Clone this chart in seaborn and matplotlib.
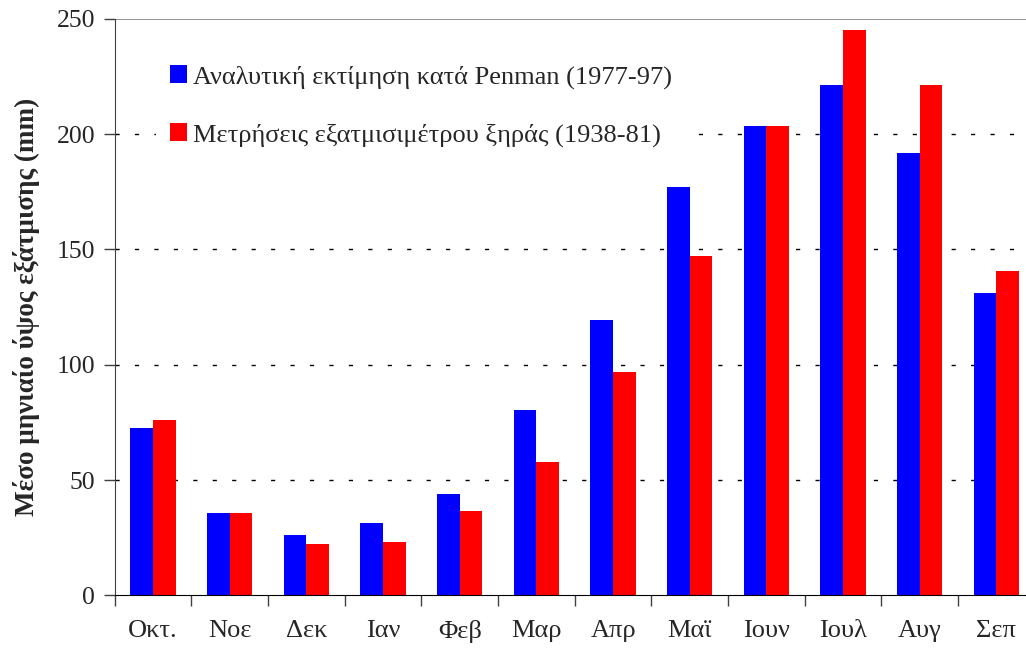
import pandas as pd
import seaborn as sns
import matplotlib.pyplot as plt
from matplotlib.ticker import MultipleLocator, FixedLocator

months = ["Οκτ.", "Νοε", "Δεκ", "Ιαν", "Φεβ", "Μαρ", "Απρ", "Μαϊ", "Ιουν", "Ιουλ", "Αυγ", "Σεπ"]
penman = [72.4, 35.6, 26.0, 31.2, 43.8, 80.4, 119.5, 177.2, 203.5, 221.2, 191.7, 131.2]
pan = [76.0, 35.6, 22.2, 23.0, 36.4, 57.7, 96.8, 147.1, 203.5, 245.4, 221.2, 140.8]
series = ["Αναλυτική εκτίμηση κατά Penman (1977-97)",
          "Μετρήσεις εξατμισιμέτρου ξηράς (1938-81)"]
colors = ["#0000ff", "#ff0000"]

df = pd.DataFrame({
    "month": months * 2,
    "value": penman + pan,
    "series": [series[0]] * len(months) + [series[1]] * len(months),
})

sns.set_style("white")
plt.rcParams["font.family"] = ["Liberation Serif", "DejaVu Serif"]

fig = plt.figure(figsize=(10.26, 6.55), dpi=100)
ax = fig.add_axes([0.1118, 0.0911, 0.8967, 0.880])

sns.barplot(data=df, x="month", y="value", hue="series", palette=colors,
            width=0.59, gap=0, linewidth=0, saturation=1, ax=ax, legend=True)

ax.set_xlim(-0.5, len(months) - 0.5)
ax.set_ylim(0, 250)
ax.yaxis.set_major_locator(MultipleLocator(50))
ax.set_xlabel("")
ax.set_ylabel("Μέσο μηνιαίο ύψος εξάτμισης (mm)", fontsize=19.5, fontweight="bold", labelpad=12)

# gridlines
for v in [50, 100, 150, 200]:
    ax.axhline(v, color="black", linestyle=(0, (3, 11)), linewidth=1, zorder=0)
ax.axhline(250, color="#808080", linewidth=1.2, zorder=0)

for s in ["top", "right"]:
    ax.spines[s].set_visible(False)
ax.spines["left"].set_color("#404040")
ax.spines["bottom"].set_color("black")

ax.tick_params(axis="y", direction="out", length=8, width=1, color="#404040",
               labelsize=18.5, pad=6, left=True)
ax.tick_params(axis="x", which="major", length=0, labelsize=19, pad=18)
ax.xaxis.set_minor_locator(FixedLocator([i - 0.5 for i in range(len(months) + 1)]))
ax.tick_params(axis="x", which="minor", direction="out", length=8, width=1,
               color="#404040", bottom=True)

leg = ax.legend(loc="upper left", bbox_to_anchor=(0.031, 0.965), frameon=True,
                facecolor="white", edgecolor="none", framealpha=1, fancybox=False,
                fontsize=19, handlelength=0.65, handleheight=0.65,
                handletextpad=0.25, labelspacing=1.3, borderpad=0.5)

fig.savefig("out.png", dpi=100)
